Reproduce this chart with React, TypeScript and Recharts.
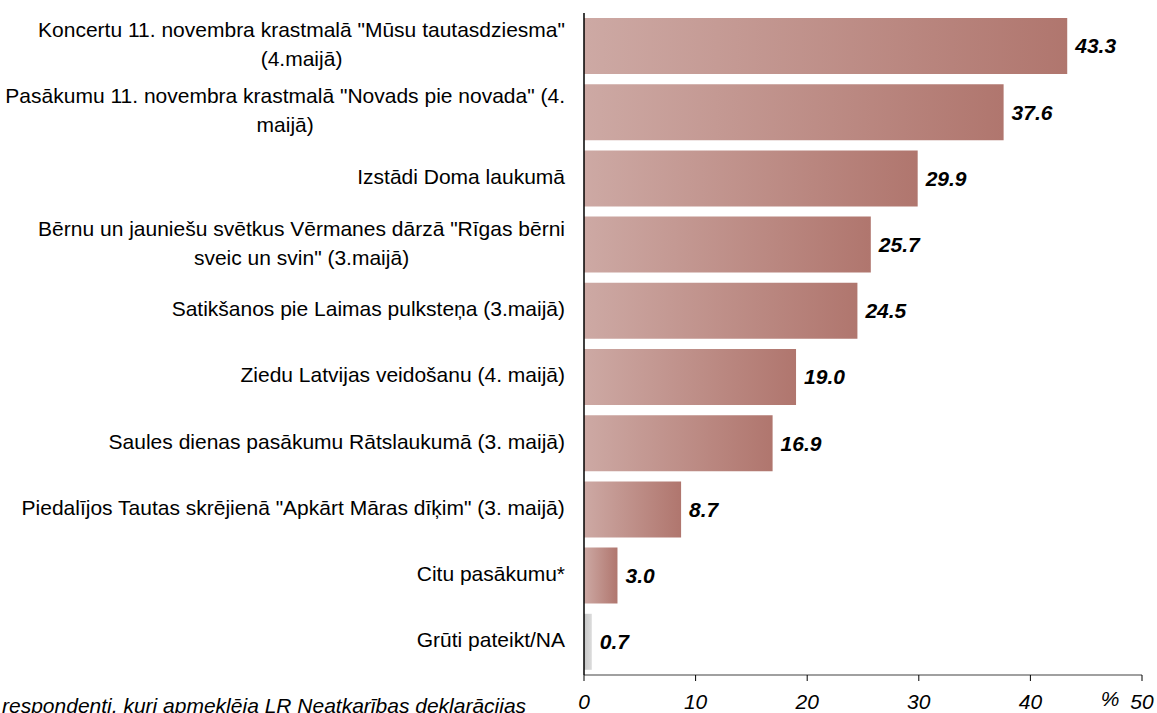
import React from "react";
import {
  BarChart,
  Bar,
  XAxis,
  YAxis,
  Cell,
  LabelList,
  Label,
} from "recharts";

// Categories (line breaks as in the original labels)
const CATEGORIES = [
  'Koncertu 11. novembra krastmalā "Mūsu tautasdziesma"\n(4.maijā)',
  'Pasākumu 11. novembra krastmalā "Novads pie novada" (4.\nmaijā)',
  "Izstādi Doma laukumā",
  'Bērnu un jauniešu svētkus Vērmanes dārzā "Rīgas bērni\nsveic un svin" (3.maijā)',
  "Satikšanos pie Laimas pulksteņa (3.maijā)",
  "Ziedu Latvijas veidošanu (4. maijā)",
  "Saules dienas pasākumu Rātslaukumā (3. maijā)",
  'Piedalījos Tautas skrējienā "Apkārt Māras dīķim" (3. maijā)',
  "Citu pasākumu*",
  "Grūti pateikt/NA",
];

const VALUES = [43.3, 37.6, 29.9, 25.7, 24.5, 19.0, 16.9, 8.7, 3.0, 0.7];
const X_TICKS = [0, 10, 20, 30, 40, 50];
const FOOTNOTE = "respondenti, kuri apmeklēja LR Neatkarības deklarācijas";

const FONT = "Arial, 'Liberation Sans', sans-serif";
const LABEL_SIZE = 21;

const data = CATEGORIES.map((name, i) => ({ name, value: VALUES[i] }));

let ctx: CanvasRenderingContext2D | null = null;
function measure(text: string) {
  if (!ctx) ctx = document.createElement("canvas").getContext("2d");
  if (!ctx) return text.length * LABEL_SIZE * 0.5;
  ctx.font = `${LABEL_SIZE}px ${FONT}`;
  return ctx.measureText(text).width;
}

// multi-line label: lines centred on each other, block right-aligned
const CategoryTick = (props: any) => {
  const { x, y, payload } = props;
  const lines: string[] = String(payload.value).split("\n");
  const blockW = Math.max(...lines.map(measure));
  const cx = x - 11 - blockW / 2;
  const lh = 29;
  const startY = y - 2 - ((lines.length - 1) * lh) / 2;
  return (
    <text
      textAnchor="middle"
      fontFamily={FONT}
      fontSize={LABEL_SIZE}
      fill="#000"
    >
      {lines.map((l, i) => (
        <tspan key={i} x={cx} y={startY + i * lh} dy="0.35em">
          {l}
        </tspan>
      ))}
    </text>
  );
};

const PercentLabel = (props: any) => {
  const { viewBox } = props;
  return (
    <text
      x={viewBox.x + viewBox.width - 32}
      y={viewBox.y + 31}
      textAnchor="middle"
      fontFamily={FONT}
      fontSize={LABEL_SIZE}
      fontStyle="italic"
      fill="#000"
    >
      %
    </text>
  );
};

export default function App() {
  return (
    <div
      style={{
        position: "absolute",
        left: 0,
        top: 0,
        width: 1157,
        height: 713,
        overflow: "hidden",
        background: "#fff",
      }}
    >
      <BarChart
        width={1157}
        height={713}
        data={data}
        layout="vertical"
        margin={{ top: 13, right: 15, bottom: 8, left: 0 }}
        barCategoryGap={5}
      >
        <defs>
          <linearGradient id="barGrad" x1="0" y1="0" x2="1" y2="0">
            <stop offset="0%" stopColor="#cda9a4" />
            <stop offset="100%" stopColor="#b0766e" />
          </linearGradient>
          <linearGradient id="grayGrad" x1="0" y1="0" x2="1" y2="0">
            <stop offset="0%" stopColor="#c6c6c6" />
            <stop offset="100%" stopColor="#dcdcdc" />
          </linearGradient>
        </defs>
        <XAxis
          type="number"
          domain={[0, 50]}
          ticks={X_TICKS}
          interval={0}
          height={30}
          axisLine={{ stroke: "#808080", strokeWidth: 1.5 }}
          tickLine={{ stroke: "#000" }}
          tickSize={6}
          tick={{
            fill: "#000",
            fontSize: LABEL_SIZE,
            fontStyle: "italic",
            fontFamily: FONT,
            dy: 11,
          }}
        >
          <Label content={<PercentLabel />} />
        </XAxis>
        <YAxis
          type="category"
          dataKey="name"
          width={584}
          axisLine={{ stroke: "#000", strokeWidth: 1.5 }}
          tickLine={false}
          tick={<CategoryTick />}
          interval={0}
        />
        <Bar dataKey="value" isAnimationActive={false}>
          {data.map((d, i) => (
            <Cell
              key={d.name}
              fill={i === data.length - 1 ? "url(#grayGrad)" : "url(#barGrad)"}
            />
          ))}
          <LabelList
            dataKey="value"
            position="right"
            offset={8}
            formatter={(v: any) => Number(v).toFixed(1)}
            style={{
              fill: "#000",
              fontSize: LABEL_SIZE,
              fontWeight: "bold",
              fontStyle: "italic",
              fontFamily: FONT,
            }}
          />
        </Bar>
      </BarChart>
      <div
        style={{
          position: "absolute",
          left: 2,
          top: 694,
          fontFamily: FONT,
          fontSize: LABEL_SIZE,
          fontStyle: "italic",
          whiteSpace: "nowrap",
          color: "#000",
        }}
      >
        {FOOTNOTE}
      </div>
    </div>
  );
}
